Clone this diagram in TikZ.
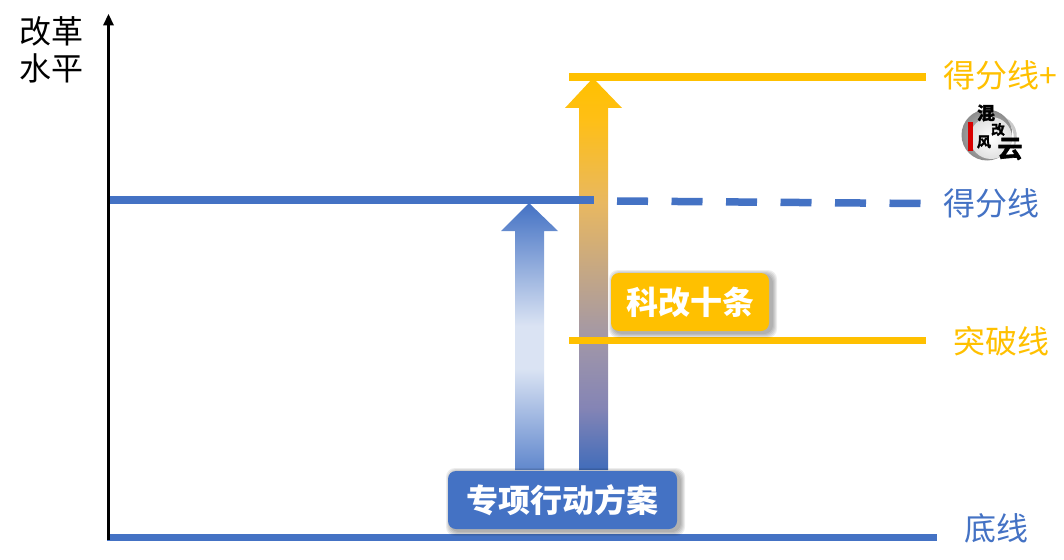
\documentclass[tikz,border=0pt]{standalone}
\usepackage{fontspec}
\setmainfont{Noto Sans CJK SC}
\newfontfamily\logofont[FakeBold=2.5]{Noto Sans CJK SC Bold}
\definecolor{cblue}{HTML}{4472C4}
\definecolor{cgold}{HTML}{FFC000}
\definecolor{clight}{HTML}{DAE3F3}
\pgfdeclareverticalshading{goldblue}{100bp}{
  color(0bp)=(cblue!95!black);
  color(25bp)=(cblue!95!black);
  rgb(33bp)=(0.52,0.52,0.71);
  rgb(41.5bp)=(0.63,0.59,0.66);
  rgb(59bp)=(0.91,0.72,0.38);
  rgb(70bp)=(1,0.75,0.08);
  color(75bp)=(cgold);
  color(100bp)=(cgold)}
\pgfdeclareverticalshading{blueback}{100bp}{
  color(0bp)=(cblue!80!white);
  color(25bp)=(cblue!85!white);
  color(44bp)=(clight);
  color(52bp)=(clight);
  color(75bp)=(cblue);
  color(100bp)=(cblue)}
\tikzset{
  x=1pt,y=-1pt,
  level/.style={line width=#1},
  lab/.style={inner sep=0pt,font=\fontsize{32}{32}\selectfont},
  tag/.style={inner sep=0pt,rounded corners=8pt,text=white,font=\fontsize{32}{32}\bfseries\selectfont},
  soft/.style={fill=black,opacity=.07,rounded corners=9pt},
  logotext/.style={inner sep=0pt,font=\logofont\fontsize{#1}{#1}\selectfont},
}
\begin{document}
\begin{tikzpicture}
\useasboundingbox (0,0) rectangle (1064,559);
\coordinate (axisB) at (108.5,540);
\coordinate (axisT) at (108.5,14);
% gradient arrows
\path[shading=blueback]
  (529,203)--(558,231)--(544,231)--(544,470)--(515,470)--(515,231)--(501,231)--cycle;
\path[shading=goldblue]
  (593,78)--(622,108)--(608,108)--(608,470)--(579,470)--(579,108)--(565,108)--cycle;
% levels
\coordinate (b1) at (107,537); \coordinate (b2) at (937,537);
\coordinate (s1) at (108,200); \coordinate (s2) at (594,200);
\coordinate (d1) at (617,201); \coordinate (d2) at (921,203.5);
\coordinate (p1) at (569,77); \coordinate (p2) at (926,77);
\coordinate (t1) at (569,340); \coordinate (t2) at (926,340);
\draw[cblue,level=7pt] (b1)--(b2);
\draw[cblue,level=7.5pt] (s1)--(s2);
\draw[cblue,level=7.5pt,dash pattern=on 31pt off 23.5pt] (d1)--(d2);
\draw[cgold,level=7.5pt] (p1)--(p2);
\draw[cgold,level=7pt] (t1)--(t2);
\draw[black,line width=3pt] (axisB)--(108.5,24);
\fill[black] (axisT)--(114,25.5)--(103,25.5)--cycle;
% box shadows
\foreach \i in {0,1,2,3,4}{
  \fill[soft] (448-\i+2,471-\i+1) rectangle (677+\i+4,529+\i+3);
  \fill[soft] (611-\i+2,273-\i+1) rectangle (769+\i+4,331+\i+3);
}
\node[tag,fill=cblue,minimum width=229pt,minimum height=58pt] (plan) at (562.5,500) {专项行动方案};
\node[tag,fill=cgold,minimum width=158pt,minimum height=58pt] (ten) at (690,302) {科改十条};
% labels
\node[lab,anchor=center] (y1) at (51,31) {改革};
\node[lab,anchor=center] (y2) at (51,68) {水平};
\node[lab,text=cgold,anchor=west] (l1) at (943,75) {得分线+};
\node[lab,text=cblue,anchor=west] (l2) at (943,203) {得分线};
\node[lab,text=cgold,anchor=west] (l3) at (953,341) {突破线};
\node[lab,text=cblue,anchor=west] (l4) at (964,528) {底线};
% logo
\shade[inner color=black!20,outer color=black!45] (987,135) circle (25.5);
\shade[inner color=white,outer color=white!88!black] (991,138) circle (21);
\fill[black!35,opacity=.6] (1006,118) .. controls (1018,124) and (1020,140) .. (1012,152) .. controls (1016,140) and (1014,128) .. (1006,118) -- cycle;
\fill[red!85!black] (967.5,122) rectangle (972.5,151);
\node[logotext=18] (m1) at (986,113) {混};
\node[logotext=13.5] (m2) at (998,129.5) {改};
\node[logotext=14] (m3) at (984,142) {风};
\node[logotext=25] (m4) at (1010,149) {云};
\end{tikzpicture}
\end{document}
